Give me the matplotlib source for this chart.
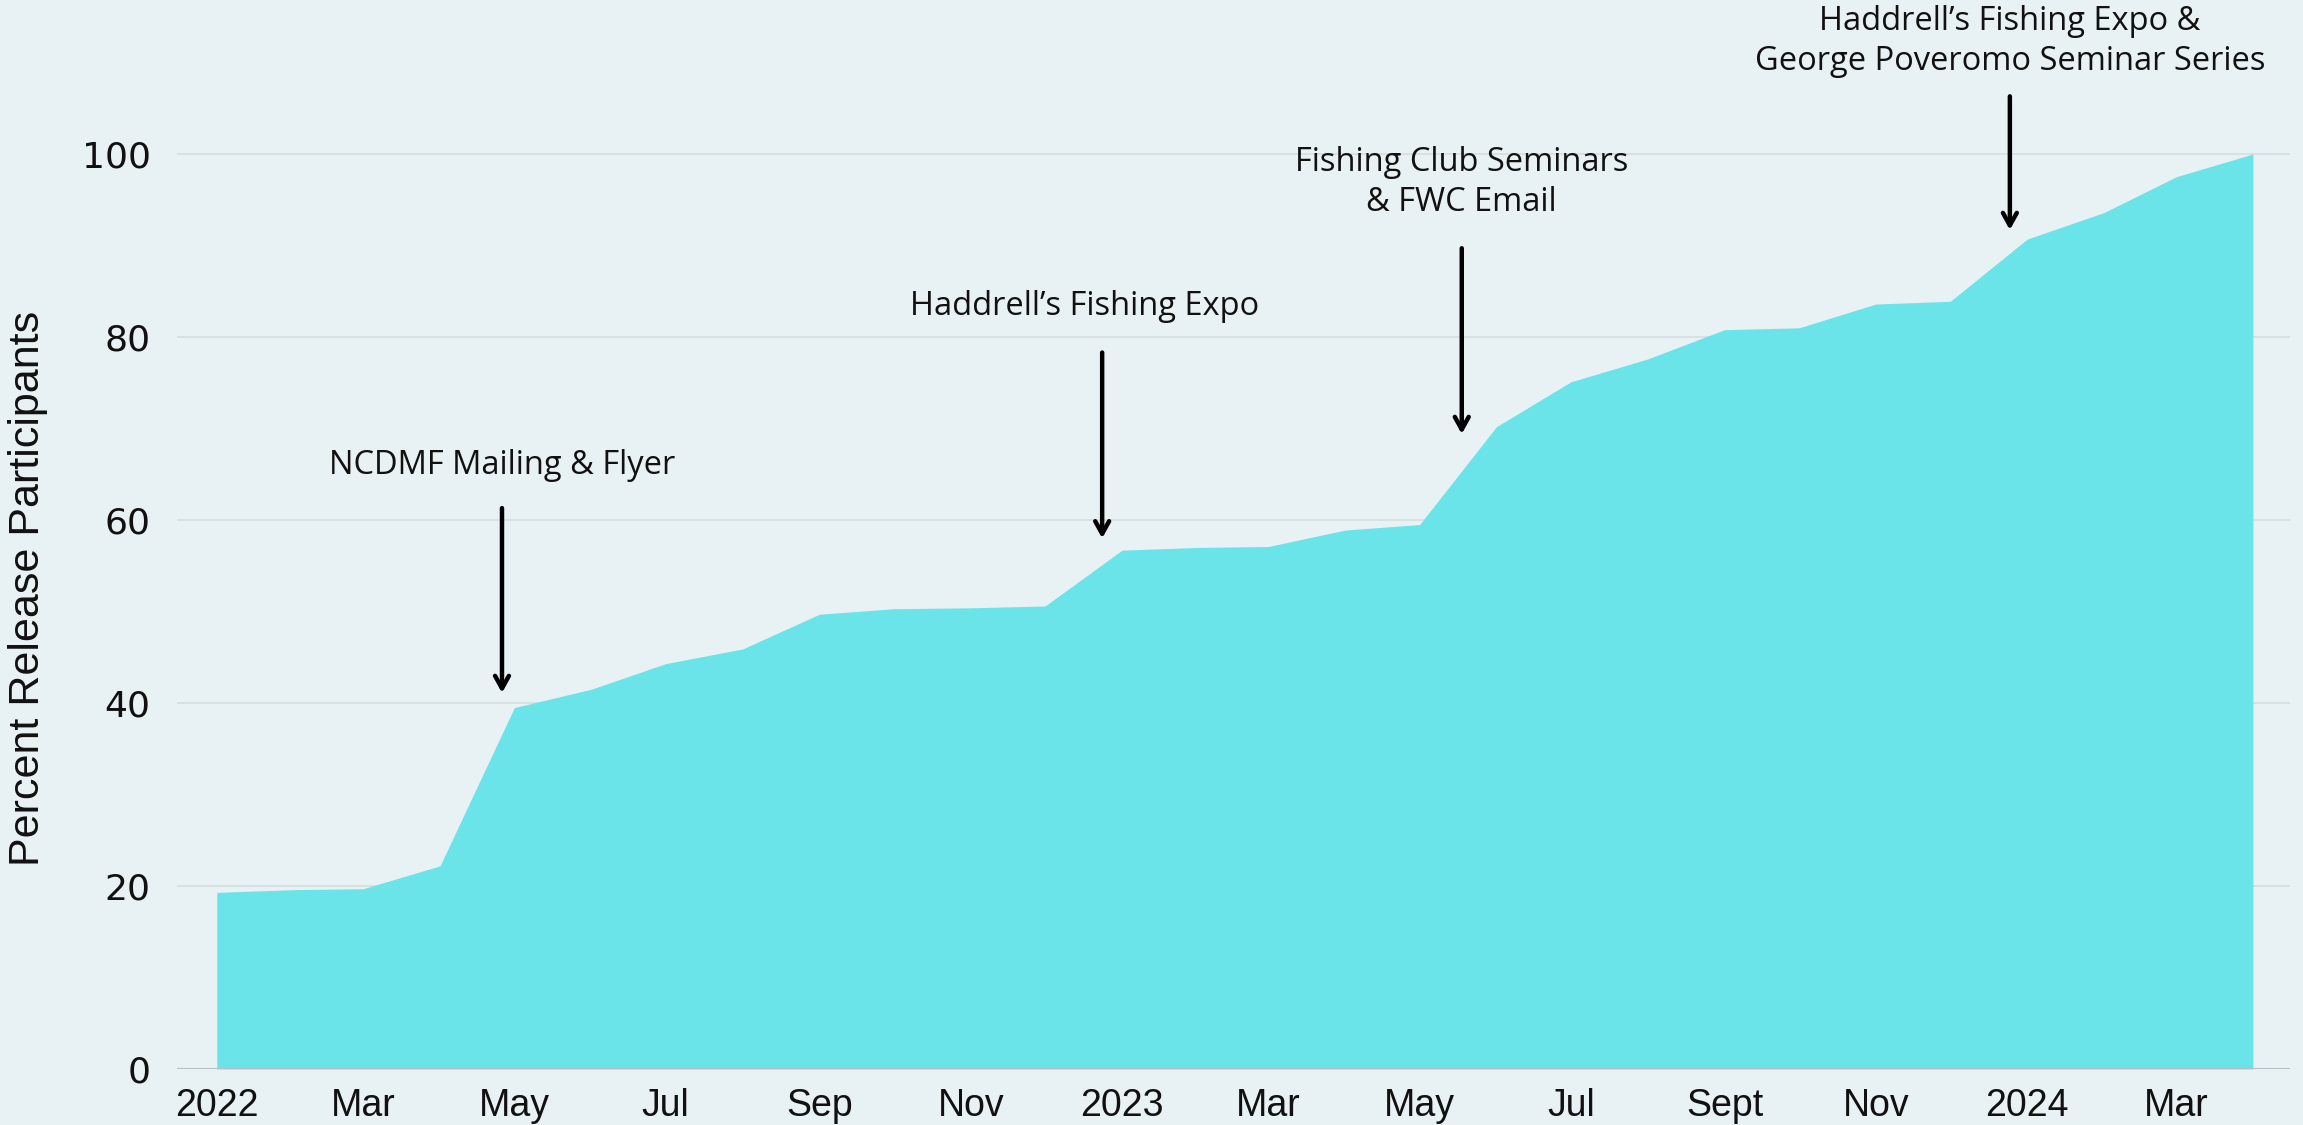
import numpy as np
import pandas as pd
import matplotlib
matplotlib.use("Agg")
import matplotlib.pyplot as plt
import matplotlib.dates as mdates

#---------------------------------------
# donnees du graphique

mois = pd.date_range("2022-01-01", "2024-04-01", freq="MS")
pourcentage = [19.3, 19.6, 19.7, 22.2, 39.5, 41.5, 44.3, 45.9, 49.7, 50.3, 50.4, 50.6,
               56.7, 57.0, 57.1, 58.9, 59.5, 70.2, 75.1, 77.6, 80.8, 81.0, 83.6, 83.9,
               90.7, 93.6, 97.5, 100.0]

tick_dates = ["2022-01-01", "2022-03-01", "2022-05-01", "2022-07-01", "2022-09-01", "2022-11-01",
              "2023-01-01", "2023-03-01", "2023-05-01", "2023-07-01", "2023-09-01", "2023-11-01",
              "2024-01-01", "2024-03-01"]
tick_labels = ["2022", "Mar", "May", "Jul", "Sep", "Nov",
               "2023", "Mar", "May", "Jul", "Sept", "Nov",
               "2024", "Mar"]

evenements = ["NCDMF Mailing & Flyer",
              "Haddrell\u2019s Fishing Expo",
              "Fishing Club Seminars\n& FWC Email",
              "Haddrell\u2019s Fishing Expo &\nGeorge Poveromo Seminar Series"]
#--------------------------------------

BG = "#e8f1f4"
FILL = "#6ae4e8"
GRID = "#d5dde0"

fig = plt.figure(figsize=(23.03, 11.25), dpi=100, facecolor=BG)
ax = fig.add_axes([0.0769, 0.0498, 0.9175, 0.854], facecolor=BG)

ax.fill_between(mois, 0, pourcentage, color=FILL, linewidth=0, zorder=2)

ax.set_ylim(0, 105)
ax.set_xlim(pd.Timestamp("2021-12-16"), pd.Timestamp("2024-04-16"))

# grille horizontale
ax.set_yticks([0, 20, 40, 60, 80, 100])
ax.yaxis.grid(True, color=GRID, linewidth=1.2, zorder=0)
ax.axhline(0, color="#b8bfc2", linewidth=1.5, zorder=3)
for s in ax.spines.values():
    s.set_visible(False)
ax.tick_params(axis="both", length=0)
ax.tick_params(axis="y", pad=19, labelsize=26, labelcolor="#111111")

ax.set_xticks(pd.to_datetime(tick_dates))
ax.set_xticklabels(tick_labels, family=["Liberation Sans", "DejaVu Sans"],
                   fontsize=27, color="#111111")
ax.tick_params(axis="x", pad=14)

ax.set_ylabel("Percent Release Participants", family=["Liberation Sans", "DejaVu Sans"],
              fontsize=31, color="#111111", labelpad=24)

#---------------------------------------
# fleches et textes des evenements
fleches = [("2022-04-26", 61.3, 41.1),
           ("2022-12-24", 78.3, 58.0),
           ("2023-05-18", 89.7, 69.4),
           ("2023-12-25", 106.3, 91.7)]
textes = [("2022-04-26", 66.0),
          ("2022-12-17", 83.3),
          ("2023-05-18", 96.9),
          ("2023-12-25", 112.3)]

for (d, y0, y1), (dt, yt), txt in zip(fleches, textes, evenements):
    x = mdates.date2num(pd.Timestamp(d))
    ax.annotate("", xy=(x, y1), xytext=(x, y0),
                arrowprops=dict(arrowstyle="->,head_length=0.9,head_width=0.5",
                                color="black", lw=3.2, shrinkA=0, shrinkB=0),
                annotation_clip=False, zorder=5)
    ax.text(mdates.date2num(pd.Timestamp(dt)), yt, txt, ha="center", va="center",
            fontsize=23.5, family=["Open Sans", "DejaVu Sans"], color="#111111",
            linespacing=1.3, clip_on=False, zorder=5)

fig.savefig("out.png", dpi=100, facecolor=BG)
